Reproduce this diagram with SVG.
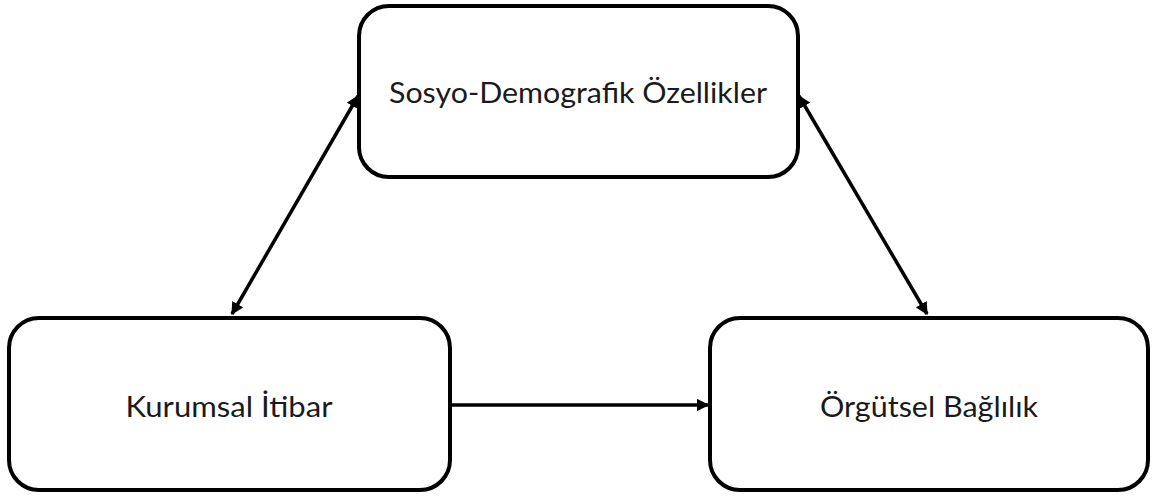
<svg xmlns="http://www.w3.org/2000/svg" width="1157" height="498" viewBox="0 0 1157 498">
<defs>
<style>
.box{fill:#fff;stroke:#000;stroke-width:4}
.lbl{font-family:Lato,"Liberation Sans",sans-serif;font-size:28px;fill:#1a1a1a;text-anchor:middle}
.con{stroke:#000;stroke-width:3.5;fill:none}
</style>
<marker id="ah" viewBox="0 0 10 10" refX="9" refY="5" markerWidth="3.6" markerHeight="3.6" orient="auto-start-reverse" markerUnits="strokeWidth">
<path d="M0,0 L10,5 L0,10 z" fill="#000"/>
</marker>
</defs>
<rect width="1157" height="498" fill="#fff"/>
<g id="connectors">
<line class="con" x1="358" y1="96" x2="232" y2="314" marker-start="url(#ah)" marker-end="url(#ah)"/>
<line class="con" x1="799" y1="96" x2="927" y2="314" marker-start="url(#ah)" marker-end="url(#ah)"/>
<line class="con" x1="452" y1="405" x2="708" y2="405" marker-end="url(#ah)"/>
</g>
<g id="node-sosyo">
<rect class="box" x="359" y="6" width="439" height="171" rx="30"/>
<text class="lbl" x="578" y="103" textLength="378" lengthAdjust="spacingAndGlyphs">Sosyo-Demografik Özellikler</text>
</g>
<g id="node-kurumsal">
<rect class="box" x="9" y="318" width="441" height="172" rx="30"/>
<text class="lbl" x="229" y="417" textLength="207" lengthAdjust="spacingAndGlyphs">Kurumsal İtibar</text>
</g>
<g id="node-orgutsel">
<rect class="box" x="710" y="318" width="438" height="172" rx="30"/>
<text class="lbl" x="929" y="417" textLength="218" lengthAdjust="spacingAndGlyphs">Örgütsel Bağlılık</text>
</g>
</svg>
